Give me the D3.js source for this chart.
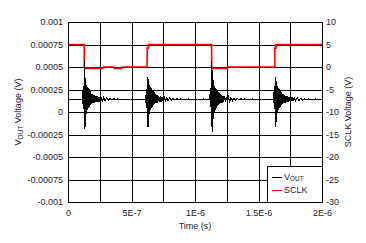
<!DOCTYPE html>
<html>
<head>
<meta charset="utf-8">
<script src="https://cdn.jsdelivr.net/npm/d3@7"></script>
<style>
  body { margin: 0; background: #fff; }
  svg { font-family: "Liberation Sans", Arial, sans-serif; }
</style>
</head>
<body>
<div id="chart"></div>
<script>
// time in ns, Vout in uV
const voutPts = [
  [0,140],[10,138],[20,142],[35,139],[50,141],[65,140],[80,143],[95,139],[105,141],[112,140],
  [115,190],[117,90],[119,230],[121,60],[123,260],[125,30],[127,300],[128,570],[129,20],[130,400],
  [131,-150],[132,410],[133,-190],[134,380],[135,-170],[136,340],[137,-120],[138,320],[139,-60],[141,300],
  [143,-20],[145,290],[147,10],[149,280],[151,20],[153,270],[155,30],[157,265],[159,40],[161,255],
  [163,50],[165,250],[167,60],[169,240],[171,70],[174,230],[177,75],[180,220],[183,85],[187,205],
  [191,95],[195,195],[200,100],[205,185],[210,105],[216,180],[222,110],[229,175],[236,112],[244,168],
  [252,118],[261,162],[270,122],[280,158],[291,126],[303,154],[316,130],[330,150],[345,135],[360,146],
  [375,140],[390,145],[405,137],[420,142],[435,139],[450,144],[465,138],[480,141],[495,140],[510,143],
  [525,138],[540,141],[555,139],[570,142],[585,140],[598,138],[610,140],
  [613,185],[615,95],[617,225],[619,65],[621,255],[623,35],[625,290],[626,10],[627,370],[628,-120],
  [629,390],[630,-165],[631,370],[632,-150],[633,340],[634,-110],[635,315],[636,-60],[638,295],[640,-20],
  [642,285],[644,5],[646,275],[648,20],[650,268],[652,30],[654,262],[656,40],[658,255],[660,50],
  [662,248],[664,58],[666,240],[668,68],[671,230],[674,75],[677,220],[680,85],[684,205],[688,95],
  [692,195],[697,100],[702,185],[707,105],[713,180],[719,110],[726,175],[733,112],[741,168],[749,118],
  [758,162],[767,122],[777,158],[788,126],[800,154],[813,130],[827,150],[842,135],[857,146],[872,140],
  [887,144],[902,138],[917,142],[932,139],[947,145],[962,138],[977,141],[992,140],[1007,143],[1022,137],
  [1037,142],[1052,139],[1067,144],[1082,138],[1097,141],[1108,140],[1115,140],
  [1118,195],[1120,85],[1122,240],[1124,55],[1126,270],[1128,25],[1130,310],[1131,570],[1132,15],[1133,450],
  [1134,-170],[1135,470],[1136,-220],[1137,430],[1138,-190],[1139,380],[1140,-140],[1141,350],[1142,-80],[1144,320],
  [1146,-30],[1148,300],[1150,0],[1152,290],[1154,15],[1156,280],[1158,25],[1160,270],[1162,35],[1164,262],
  [1166,45],[1168,255],[1170,55],[1172,245],[1174,65],[1177,235],[1180,72],[1183,225],[1186,82],[1190,210],
  [1194,92],[1198,198],[1203,98],[1208,188],[1213,104],[1219,182],[1225,108],[1232,176],[1239,112],[1247,170],
  [1255,117],[1264,163],[1273,121],[1283,158],[1294,126],[1306,154],[1319,130],[1333,150],[1348,135],[1363,146],
  [1378,140],[1393,144],[1408,137],[1423,142],[1438,139],[1453,145],[1468,138],[1483,141],[1498,140],[1513,143],
  [1528,138],[1543,142],[1558,139],[1573,141],[1588,140],[1602,138],[1615,140],
  [1618,185],[1620,95],[1622,225],[1624,65],[1626,255],[1628,35],[1630,290],[1631,10],[1632,370],[1633,-130],
  [1634,390],[1635,-170],[1636,370],[1637,-150],[1638,340],[1639,-110],[1640,315],[1641,-60],[1643,295],[1645,-20],
  [1647,285],[1649,5],[1651,275],[1653,20],[1655,268],[1657,30],[1659,262],[1661,40],[1663,255],[1665,50],
  [1667,248],[1669,58],[1671,240],[1673,68],[1676,230],[1679,75],[1682,220],[1685,85],[1689,205],[1693,95],
  [1697,195],[1702,100],[1707,185],[1712,105],[1718,180],[1724,110],[1731,175],[1738,112],[1746,168],[1754,118],
  [1763,162],[1772,122],[1782,158],[1793,126],[1805,154],[1818,130],[1832,150],[1847,135],[1862,146],[1877,140],
  [1892,144],[1907,138],[1922,142],[1937,139],[1952,145],[1967,138],[1982,141],[2000,140]
];

// time in ns, SCLK in V
const sclkPts = [
  [0,5],[128,5],[128,0.2],[131,-0.3],[274,-0.3],[276,0],[360,0],[362,-0.3],[423,-0.3],[425,0],
  [623,0],[623,4.2],[633,4.2],[633,5],
  [1131,5],[1131,0.2],[1134,-0.3],[1252,-0.3],[1254,0],
  [1628,0],[1628,4.2],[1638,4.2],[1638,5],[2000,5]
];

const xGrid = [0, 2.5e-7, 5e-7, 7.5e-7, 1e-6, 1.25e-6, 1.5e-6, 1.75e-6, 2e-6];
const xTicks = [0, 5e-7, 1e-6, 1.5e-6, 2e-6];
const xTickLabels = ["0", "5E-7", "1E-6", "1.5E-6", "2E-6"];
const yLTicks = [0.001, 0.00075, 0.0005, 0.00025, 0, -0.00025, -0.0005, -0.00075, -0.001];
const yLTickLabels = ["0.001", "0.00075", "0.0005", "0.00025", "0", "-0.00025", "-0.0005", "-0.00075", "-0.001"];
const yRTicks = [10, 5, 0, -5, -10, -15, -20, -25, -30];

const W = 366, H = 243;
const L = 68, R = 322, T = 22, B = 202;
const textColor = "#222233";

const svg = d3.select("#chart").append("svg")
  .attr("width", W).attr("height", H);

const x = d3.scaleLinear().domain([0, 2e-6]).range([L, R]);
const yL = d3.scaleLinear().domain([-0.001, 0.001]).range([B, T]);
const yR = d3.scaleLinear().domain([-30, 10]).range([B, T]);

const crisp = v => Math.round(v) + 0.5;

// grid
const grid = svg.append("g").attr("stroke", "#000").attr("stroke-width", 1);
grid.selectAll("line.v").data(xGrid).join("line")
  .attr("class", "v")
  .attr("x1", d => crisp(x(d))).attr("x2", d => crisp(x(d)))
  .attr("y1", T).attr("y2", B);
grid.selectAll("line.h").data(yLTicks).join("line")
  .attr("class", "h")
  .attr("x1", L).attr("x2", R)
  .attr("y1", d => crisp(yL(d))).attr("y2", d => crisp(yL(d)));

// series
const sclkLine = d3.line()
  .x(d => x(d[0] * 1e-9))
  .y(d => yR(d[1]));
svg.append("path")
  .datum(sclkPts)
  .attr("fill", "none")
  .attr("stroke", "#ff0000")
  .attr("stroke-width", 1.6)
  .attr("d", sclkLine);

const voutLine = d3.line()
  .x(d => x(d[0] * 1e-9))
  .y(d => yL(d[1] * 1e-6));
svg.append("path")
  .datum(voutPts)
  .attr("fill", "none")
  .attr("stroke", "#000")
  .attr("stroke-width", 1.2)
  .attr("shape-rendering", "crispEdges")
  .attr("d", voutLine);

// axes
const axL = svg.append("g")
  .attr("transform", `translate(${L},0)`)
  .call(d3.axisLeft(yL).tickValues(yLTicks).tickSize(0).tickPadding(5)
    .tickFormat((d, i) => yLTickLabels[i]));
const axR = svg.append("g")
  .attr("transform", `translate(${R},0)`)
  .call(d3.axisRight(yR).tickValues(yRTicks).tickSize(0).tickPadding(4)
    .tickFormat(d => String(d)));
const axB = svg.append("g")
  .attr("transform", `translate(0,${B})`)
  .call(d3.axisBottom(x).tickValues(xTicks).tickSize(0).tickPadding(8)
    .tickFormat((d, i) => xTickLabels[i]));

[axL, axR, axB].forEach(a => {
  a.select(".domain").remove();
  a.selectAll("text")
    .attr("font-family", "Liberation Sans, Arial, sans-serif")
    .attr("font-size", 9)
    .attr("fill", textColor);
});

// frame
svg.append("rect")
  .attr("x", L + 0.5).attr("y", T + 0.5)
  .attr("width", R - L).attr("height", B - T)
  .attr("fill", "none").attr("stroke", "#000");

// axis titles
svg.append("text")
  .attr("x", (L + R) / 2).attr("y", 229)
  .attr("text-anchor", "middle")
  .attr("font-size", 9).attr("fill", textColor)
  .text("Time (s)");

const lt = svg.append("text")
  .attr("transform", `translate(21,${(T + B) / 2}) rotate(-90)`)
  .attr("text-anchor", "middle")
  .attr("font-size", 9).attr("fill", textColor);
lt.append("tspan").text("V");
lt.append("tspan").attr("font-size", 6.5).attr("dy", 2).text("OUT");
lt.append("tspan").attr("dy", -2).text(" Voltage (V)");

svg.append("text")
  .attr("transform", `translate(351,${(T + B) / 2}) rotate(-90)`)
  .attr("text-anchor", "middle")
  .attr("font-size", 9).attr("fill", textColor)
  .text("SCLK Voltage (V)");

// legend
const lg = svg.append("g");
lg.append("rect")
  .attr("x", 267.5).attr("y", 166.5)
  .attr("width", R - 267).attr("height", B - 166)
  .attr("fill", "#fff").attr("stroke", "#000");
const legendItems = [
  { name: "V", sub: "OUT", color: "#000" },
  { name: "SCLK", sub: null, color: "#ff0000" }
];
legendItems.forEach((it, i) => {
  const yy = 177 + i * 13;
  lg.append("line")
    .attr("x1", 272).attr("x2", 282)
    .attr("y1", yy + 0.5).attr("y2", yy + 0.5)
    .attr("stroke", it.color).attr("stroke-width", 1);
  const t = lg.append("text")
    .attr("x", 284).attr("y", yy + 3)
    .attr("font-size", 9).attr("fill", textColor);
  t.append("tspan").text(it.name);
  if (it.sub) t.append("tspan").attr("font-size", 6.5).attr("dy", 1).text(it.sub);
});
</script>
</body>
</html>
